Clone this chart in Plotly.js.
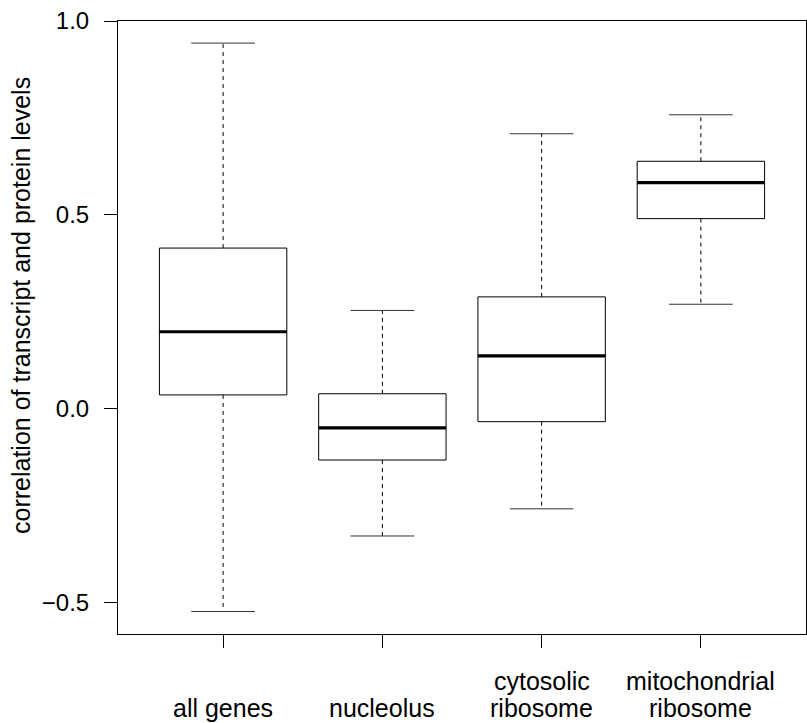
<!DOCTYPE html>
<html>
<head>
<meta charset="utf-8">
<script src="https://cdn.plot.ly/plotly-3.0.1.min.js"></script>
<style>html,body{margin:0;padding:0;background:#fff;}#chart{width:807px;height:723px;}</style>
</head>
<body>
<div id="chart"></div>
<script>
// Data
const categories = ["all genes", "nucleolus", "cytosolic\nribosome", "mitochondrial\nribosome"];
const whiskerHigh = [0.943, 0.253, 0.709, 0.758];
const q3 = [0.414, 0.038, 0.288, 0.638];
const median = [0.198, -0.050, 0.136, 0.583];
const q1 = [0.035, -0.133, -0.034, 0.490];
const whiskerLow = [-0.524, -0.329, -0.259, 0.269];
const yTickVals = [-0.5, 0.0, 0.5, 1.0];
const yTitle = "correlation of transcript and protein levels";

const halfBox = 0.4, halfCap = 0.2;
const pos = categories.map((c, i) => i + 1);

const boxX = [], boxY = [], medX = [], medY = [], whX = [], whY = [], capX = [], capY = [];
pos.forEach((p, i) => {
  boxX.push(p - halfBox, p + halfBox, p + halfBox, p - halfBox, p - halfBox, null);
  boxY.push(q1[i], q1[i], q3[i], q3[i], q1[i], null);
  medX.push(p - halfBox, p + halfBox, null);
  medY.push(median[i], median[i], null);
  whX.push(p, p, null, p, p, null);
  whY.push(q3[i], whiskerHigh[i], null, q1[i], whiskerLow[i], null);
  capX.push(p - halfCap, p + halfCap, null, p - halfCap, p + halfCap, null);
  capY.push(whiskerHigh[i], whiskerHigh[i], null, whiskerLow[i], whiskerLow[i], null);
});

const common = {type: "scatter", mode: "lines", hoverinfo: "skip", showlegend: false, connectgaps: false};
const traces = [
  Object.assign({}, common, {x: whX, y: whY, line: {color: "#000", width: 1, dash: "4px,4px"}}),
  Object.assign({}, common, {x: capX, y: capY, line: {color: "#333", width: 1}}),
  Object.assign({}, common, {x: boxX, y: boxY, line: {color: "#000", width: 1}}),
  Object.assign({}, common, {x: medX, y: medY, line: {color: "#000", width: 3.2}})
];

const fam = "Liberation Sans, Arial, Helvetica, sans-serif";
const tickFont = {family: fam, size: 24, color: "#000"};
const labelFont = {family: fam, size: 25, color: "#000"};

// category labels: each line placed separately, bottom lines aligned (R style)
const annotations = [];
categories.forEach((c, i) => {
  const lines = c.split("\n");
  lines.forEach((ln, k) => {
    const fromBottom = lines.length - 1 - k;
    annotations.push({
      x: pos[i], y: 0, xref: "x", yref: "paper",
      xanchor: "center", yanchor: "bottom",
      yshift: -90 + fromBottom * 27,
      text: ln, showarrow: false, font: labelFont
    });
  });
});
// y-axis title as rotated annotation
annotations.push({
  x: (21 - 118) / 688, y: (634 - 306) / 613, xref: "paper", yref: "paper",
  xanchor: "center", yanchor: "middle", textangle: -90,
  text: yTitle, showarrow: false, font: labelFont
});

const layout = {
  width: 807, height: 723,
  margin: {l: 118, r: 1, t: 21, b: 89},
  paper_bgcolor: "#fff", plot_bgcolor: "#fff",
  font: tickFont,
  xaxis: {
    range: [0.34, 4.66], tickvals: pos, showticklabels: false,
    ticks: "outside", ticklen: 13, tickwidth: 1, tickcolor: "#000",
    showgrid: false, zeroline: false, showline: true, linecolor: "#000", linewidth: 1, mirror: true
  },
  yaxis: {
    range: [-0.582, 1.0], tickvals: yTickVals, tickformat: ".1f",
    ticks: "outside", ticklen: 13, tickwidth: 1, tickcolor: "#000",
    ticklabelstandoff: 10, tickfont: tickFont,
    showgrid: false, zeroline: false, showline: true, linecolor: "#000", linewidth: 1, mirror: true
  },
  annotations: annotations
};

Plotly.newPlot("chart", traces, layout, {staticPlot: true, displayModeBar: false});
</script>
</body>
</html>
